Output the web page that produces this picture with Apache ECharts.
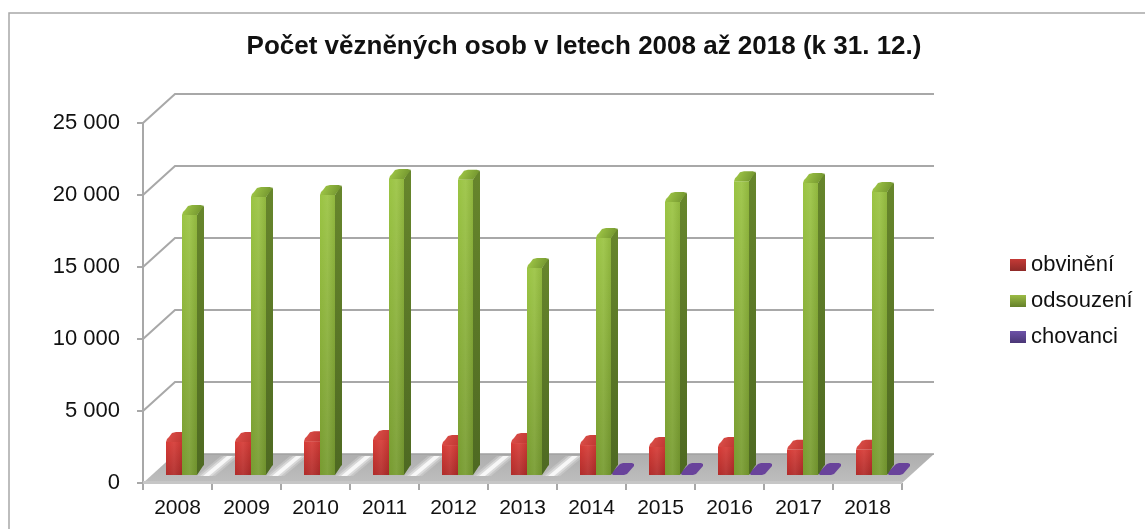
<!DOCTYPE html>
<html>
<head>
	<meta charset="utf-8">
	<title>Počet vězněných osob</title>
	<script src="https://cdn.jsdelivr.net/npm/echarts@6/dist/echarts.min.js"></script>
	<style>
		html,body{margin:0;padding:0;background:#fff;}
		#main{width:1145px;height:529px;}
	</style>
</head>
<body>
<div id="main"></div>
<script type="text/javascript">
	var titleText = 'Počet vězněných osob v letech 2008 až 2018 (k 31. 12.)';
	var years = ['2008','2009','2010','2011','2012','2013','2014','2015','2016','2017','2018'];
	var obvineni = [2300,2300,2350,2430,2080,2220,2080,1950,1950,1750,1750];
	var odsouzeni = [18050,19300,19440,20550,20500,14370,16460,18960,20400,20280,19650];
	// 2008-2013 nejsou chovanci, v grafu je tam jen svetly odlesk na podlaze
	var chovanci = [0,0,0,0,0,0,50,50,50,50,50];
	var yTicks = [0,5000,10000,15000,20000,25000];

	// hloubka 3D sceny
	var wallDx = 32, wallDy = 29;
	var barDx = 7, barDy = 10, lift = 8;
	var gridColor = '#a8a8a8';

	function grad(x0,y0,x1,y1,a,b,c){
		var stops = c ? [{offset:0,color:a},{offset:0.5,color:b},{offset:1,color:c}]
			: [{offset:0,color:a},{offset:1,color:b}];
		return new echarts.graphic.LinearGradient(x0,y0,x1,y1,stops);
	}

	function wallItem(params, api){
		var cs = params.coordSys;
		var y = api.coord([0, api.value(0)])[1];
		var xl = cs.x, xr = cs.x + cs.width;
		var children = [];
		if (api.value(0) === 0) {
			children.push({type:'polygon',shape:{points:[[xl,y],[xr,y],[xr+wallDx,y-wallDy],[xl+wallDx,y-wallDy]]},
				style:{fill:grad(0,0,0,1,'#aeaeae','#bebebe')}});
			children.push({type:'rect',shape:{x:xl,y:y-2,width:xr-xl,height:3},style:{fill:'#c6c6c6'}});
			children.push({type:'line',shape:{x1:xl+wallDx,y1:y-wallDy,x2:xr+wallDx,y2:y-wallDy},style:{stroke:'#a0a0a0',lineWidth:1.5}});
			return {type:'group',children:children};
		}
		children.push({type:'polyline',shape:{points:[[xl,y],[xl+wallDx,y-wallDy],[xr+wallDx,y-wallDy]]},
			style:{fill:null,stroke:gridColor,lineWidth:2}});
		return {type:'group',children:children};
	}

	function barItem(offset, width, c){
		return function(params, api){
			var cat = api.value(0), val = api.value(1);
			var base = api.coord([cat,0]);
			var top = api.coord([cat,val]);
			var x = base[0] - api.size([1,0])[0]/2 + offset;
			var y0 = base[1] - lift, y1 = top[1] - lift;
			var r = x + width;
			return {type:'group',children:[
				{type:'polygon',shape:{points:[[r,y0],[r+barDx-1,y0-barDy+1],[r+barDx,y0-barDy],[r+barDx,y1-barDy+2],[r+barDx-1,y1-barDy],[r,y1]]},
					style:{fill:grad(0,0,0,1,c.sideA,c.sideB)}},
				{type:'polygon',shape:{points:[[x,y0],[r,y0],[r,y1],[x,y1]]},
					style:{fill:grad(0,0,0,1,c.frontA,c.frontB)}},
				{type:'rect',shape:{x:x,y:y1,width:width,height:y0-y1},
					style:{fill:grad(0,0,1,0,'rgba(255,255,255,0)','rgba(255,255,255,0.07)','rgba(0,0,0,0.07)')}},
				{type:'polygon',shape:{points:[[x,y1],[r,y1],[r+barDx-1,y1-barDy+2],[r+barDx-1,y1-barDy+1],[r+barDx-3,y1-barDy],[x+barDx+3,y1-barDy],[x+barDx-1,y1-barDy+1],[x+3,y1-barDy+5],[x+1,y1-barDy+7]]},
					style:{fill:grad(0,0,1,1,c.topA,c.topB)}}
			]};
		};
	}

	// vrstvy pruhu: [pulka sirky, pruhlednost]
	var glow = [[9,0.2],[6,0.35],[3,0.8]];

	function chovanciItem(params, api){
		var cat = api.value(0), val = api.value(1);
		var base = api.coord([cat,0]);
		var x = base[0] - api.size([1,0])[0]/2 + 55;
		var y0 = base[1] - lift;
		if (!val) {
			// svetly pruh na podlaze
			return {type:'group',children:glow.map(function(g){
				return {type:'polygon',shape:{points:[[x+8-g[0],y0+1],[x+8+g[0],y0+1],[x+32+g[0],y0-19],[x+32-g[0],y0-19]]},
					style:{fill:'#fff',opacity:g[1]}};
			})};
		}
		return {type:'polygon',shape:{points:[[x+1,y0],[x+12,y0],[x+15,y0-1],[x+22,y0-9],[x+22,y0-11],[x+20,y0-12],[x+11,y0-12],[x+8,y0-11],[x,y0-3],[x,y0-1]]},
			style:{fill:'#69439b'}};
	}

	var redColors = {frontA:'#d63b36',frontB:'#b02b29',sideA:'#8a2320',sideB:'#7a1f1d',topA:'#e0524c',topB:'#b8302c'};
	var greenColors = {frontA:'#9bc443',frontB:'#779b30',sideA:'#67862c',sideB:'#4e6922',topA:'#a6ce4a',topB:'#6d8f2c'};

	function pairs(arr){
		return arr.map(function(v,i){ return [i,v]; });
	}

	var myChart = echarts.init(document.getElementById('main'));
	myChart.setOption({
		animation:false,
		backgroundColor:'#fff',
		textStyle:{fontFamily:'"Liberation Sans",Arial,sans-serif'},
		title:{
			text:titleText,left:579,top:29,textAlign:'center',
			textStyle:{fontSize:26,fontWeight:'bold',color:'#111'}
		},
		legend:{
			orient:'vertical',left:1005,top:249,icon:'rect',itemWidth:16,itemHeight:12,itemGap:14,
			textStyle:{fontSize:22,color:'#111'},
			data:['obvinění','odsouzení','chovanci']
		},
		grid:{left:143,right:243,top:123,bottom:46},
		xAxis:{
			type:'category',data:years,
			axisLine:{show:false},
			axisTick:{show:true,length:7,lineStyle:{color:gridColor,width:2}},
			axisLabel:{fontSize:21,color:'#111',margin:15}
		},
		yAxis:{
			type:'value',min:0,max:25000,interval:5000,
			axisLine:{show:true,lineStyle:{color:gridColor,width:2}},
			axisTick:{show:true,length:6,lineStyle:{color:gridColor,width:2}},
			splitLine:{show:false},
			axisLabel:{fontSize:22,color:'#111',margin:23,formatter:function(v){
				return v === 0 ? '0' : (v/1000) + ' 000';
			}}
		},
		graphic:[{type:'rect',shape:{x:9,y:13,width:1300,height:700},style:{fill:null,stroke:gridColor,lineWidth:1.5},z:-1}],
		series:[
			{type:'custom',name:'walls',renderItem:wallItem,data:yTicks.map(function(v){return [v];}),
				encode:{y:0},silent:true,z:1},
			{type:'custom',name:'chovanci',renderItem:chovanciItem,data:pairs(chovanci),
				itemStyle:{color:grad(0,0,0,1,'#6d52a8','#4a3676')},encode:{x:0,y:1},z:2},
			{type:'custom',name:'obvinění',renderItem:barItem(23,16,redColors),data:pairs(obvineni),
				itemStyle:{color:grad(0,0,0,1,'#c43a36','#8e2a28')},encode:{x:0,y:1},z:3},
			{type:'custom',name:'odsouzení',renderItem:barItem(39,15,greenColors),data:pairs(odsouzeni),
				itemStyle:{color:grad(0,0,0,1,'#9bbb45','#64802a')},encode:{x:0,y:1},z:4}
		]
	});
</script>
</body>
</html>
